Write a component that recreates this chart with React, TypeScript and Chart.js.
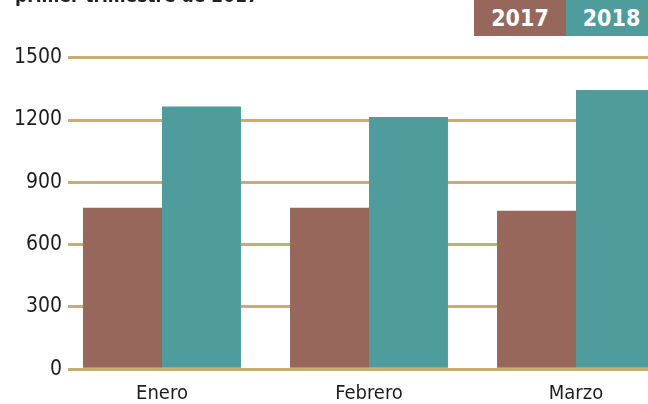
import React, { useEffect, useRef } from "react";
import { Chart, registerables } from "chart.js";

Chart.register(...registerables);

const categories = ["Enero", "Febrero", "Marzo"];
const series2017 = [778, 778, 763];
const series2018 = [1265, 1215, 1345];
const yTicks = [0, 300, 600, 900, 1200, 1500];
const legendLabels = ["2017", "2018"];
const titleText = "primer trimestre de 2017";

const BROWN = "#97675C";
const TEAL = "#4F9C9D";
const GRID = "#C8AE6E";
const FONT = "'Liberation Sans Narrow', 'DejaVu Sans Condensed', 'Liberation Sans', sans-serif";

export default function App() {
  const ref = useRef<HTMLCanvasElement | null>(null);

  useEffect(() => {
    const canvas = ref.current;
    if (!canvas) return;
    const chart = new Chart(canvas, {
      type: "bar",
      data: {
        datasets: [
          {
            label: legendLabels[0],
            data: series2017.map((v, i) => ({ x: i, y: v })),
            backgroundColor: BROWN,
            borderWidth: 0,
          },
          {
            label: legendLabels[1],
            data: series2018.map((v, i) => ({ x: i, y: v })),
            backgroundColor: TEAL,
            borderWidth: 0,
          },
        ],
      },
      options: {
        animation: false,
        responsive: false,
        maintainAspectRatio: false,
        devicePixelRatio: 1,
        layout: { padding: { top: 57.7, left: 0, right: 0, bottom: 0 } },
        plugins: { legend: { display: false }, tooltip: { enabled: false }, title: { display: false } },
        datasets: { bar: { categoryPercentage: 0.763, barPercentage: 1 } },
        scales: {
          x: {
            type: "linear",
            offset: false,
            min: -0.4541,
            max: 2.3478,
            grid: { display: false, drawTicks: false },
            border: { display: false },
            afterBuildTicks: (axis: any) => {
              axis.ticks = categories.map((_, i) => ({ value: i }));
            },
            afterFit: (scale: any) => {
              scale.height = 34.7;
            },
            ticks: {
              padding: 12,
              color: "#1e1e1e",
              font: { family: FONT, size: 20 },
              callback: (v: any) => categories[Math.round(Number(v))] ?? "",
              maxRotation: 0,
              autoSkip: false,
            },
          },
          y: {
            min: 0,
            max: 1500,
            afterBuildTicks: (axis: any) => {
              axis.ticks = yTicks.map((v) => ({ value: v }));
            },
            afterFit: (scale: any) => {
              scale.width = 68;
            },
            grid: { color: GRID, lineWidth: 3, drawTicks: false },
            border: { display: false },
            ticks: {
              padding: 6,
              color: "#1e1e1e",
              font: { family: FONT, size: 21 },
              callback: (v: any) => String(v),
            },
          },
        },
      },
    });
    return () => chart.destroy();
  }, []);

  return (
    <div
      style={{
        position: "fixed",
        left: 0,
        top: 0,
        width: 648,
        height: 404,
        overflow: "hidden",
        background: "#fff",
      }}
    >
      <canvas ref={ref} width={648} height={404} style={{ position: "absolute", left: 0, top: 0, width: 648, height: 404 }} />
      <div
        style={{
          position: "absolute",
          left: 15,
          top: -15,
          fontFamily: FONT,
          fontWeight: "bold",
          fontSize: 19,
          lineHeight: "20px",
          color: "#222",
          whiteSpace: "nowrap",
        }}
      >
        {titleText}
      </div>
      <div
        style={{
          position: "absolute",
          left: 474,
          top: 0,
          width: 92,
          height: 36,
          background: BROWN,
          color: "#fff",
          fontFamily: FONT,
          fontWeight: "bold",
          fontSize: 23,
          lineHeight: "36px",
          textAlign: "center",
        }}
      >
        {legendLabels[0]}
      </div>
      <div
        style={{
          position: "absolute",
          left: 566,
          top: 0,
          width: 91,
          height: 36,
          background: TEAL,
          color: "#fff",
          fontFamily: FONT,
          fontWeight: "bold",
          fontSize: 23,
          lineHeight: "36px",
          textAlign: "center",
        }}
      >
        {legendLabels[1]}
      </div>
    </div>
  );
}
